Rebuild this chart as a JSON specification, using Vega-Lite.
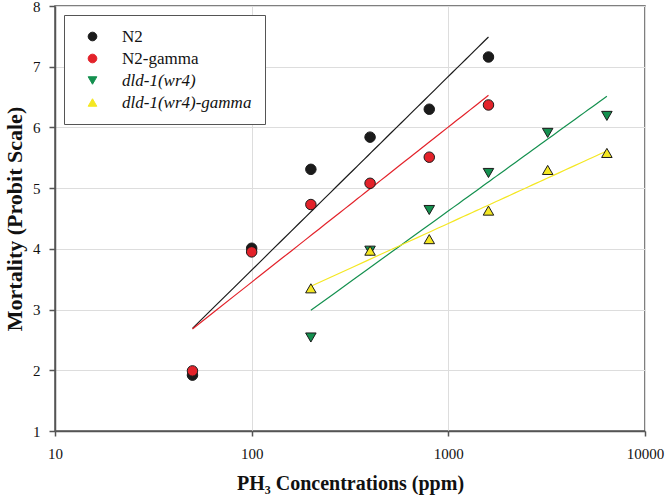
{
  "$schema": "https://vega.github.io/schema/vega-lite/v6.json",
  "width": 590,
  "height": 425,
  "autosize": {"type": "none"},
  "padding": {"left": 55, "top": 6, "right": 21, "bottom": 73},
  "background": "white",
  "config": {
    "font": "Liberation Serif",
    "view": {"stroke": "#555", "strokeWidth": 1.5},
    "axis": {
      "labelFont": "Liberation Serif",
      "labelFontSize": 15,
      "labelColor": "#111",
      "domainColor": "#555",
      "domainWidth": 1.5,
      "tickColor": "#555",
      "tickWidth": 1.5,
      "gridColor": "#dddddd",
      "gridWidth": 1,
      "titleFont": "Liberation Serif",
      "titleFontWeight": "bold",
      "titleColor": "#111"
    },
    "legend": {
      "labelFont": "Liberation Serif",
      "labelFontSize": 17,
      "labelColor": "#111",
      "labelLimit": 300
    }
  },
  "data": {
    "values": [
      {"series": "N2", "ppm": 50, "mortality": 1.92},
      {"series": "N2", "ppm": 100, "mortality": 4.01},
      {"series": "N2", "ppm": 200, "mortality": 5.31},
      {"series": "N2", "ppm": 400, "mortality": 5.84},
      {"series": "N2", "ppm": 800, "mortality": 6.30},
      {"series": "N2", "ppm": 1600, "mortality": 7.16},
      {"series": "N2-gamma", "ppm": 50, "mortality": 1.99},
      {"series": "N2-gamma", "ppm": 100, "mortality": 3.95},
      {"series": "N2-gamma", "ppm": 200, "mortality": 4.73},
      {"series": "N2-gamma", "ppm": 400, "mortality": 5.08},
      {"series": "N2-gamma", "ppm": 800, "mortality": 5.51},
      {"series": "N2-gamma", "ppm": 1600, "mortality": 6.37},
      {"series": "dld-1(wr4)", "ppm": 200, "mortality": 2.54},
      {"series": "dld-1(wr4)", "ppm": 400, "mortality": 3.97},
      {"series": "dld-1(wr4)", "ppm": 800, "mortality": 4.64},
      {"series": "dld-1(wr4)", "ppm": 1600, "mortality": 5.25},
      {"series": "dld-1(wr4)", "ppm": 3200, "mortality": 5.91},
      {"series": "dld-1(wr4)", "ppm": 6400, "mortality": 6.19},
      {"series": "dld-1(wr4)-gamma", "ppm": 200, "mortality": 3.35},
      {"series": "dld-1(wr4)-gamma", "ppm": 400, "mortality": 3.97},
      {"series": "dld-1(wr4)-gamma", "ppm": 800, "mortality": 4.16},
      {"series": "dld-1(wr4)-gamma", "ppm": 1600, "mortality": 4.63},
      {"series": "dld-1(wr4)-gamma", "ppm": 3200, "mortality": 5.30},
      {"series": "dld-1(wr4)-gamma", "ppm": 6400, "mortality": 5.58}
    ]
  },
  "encoding": {
    "x": {
      "field": "ppm",
      "type": "quantitative",
      "scale": {"type": "log", "domain": [10, 10000]},
      "axis": {
        "values": [10, 100, 1000, 10000],
        "format": "d",
        "tickSize": 5,
        "labelPadding": 10,
        "labelFlush": false,
        "title": "PH₃ Concentrations (ppm)",
        "titleFontSize": 20,
        "titlePadding": 12
      }
    },
    "y": {
      "field": "mortality",
      "type": "quantitative",
      "scale": {"domain": [1, 8], "nice": false, "zero": false},
      "axis": {
        "values": [1, 2, 3, 4, 5, 6, 7, 8],
        "tickSize": 6,
        "labelPadding": 9,
        "title": "Mortality (Probit Scale)",
        "titleFontSize": 22,
        "titlePadding": 6
      }
    },
    "color": {
      "field": "series",
      "type": "nominal",
      "scale": {
        "domain": ["N2", "N2-gamma", "dld-1(wr4)", "dld-1(wr4)-gamma"],
        "range": ["#1b1b1b", "#e3222a", "#14904f", "#f4e722"]
      },
      "legend": {
        "title": null,
        "orient": "top-left",
        "offset": 9,
        "padding": 13,
        "symbolOffset": 7,
        "symbolSize": 75,
        "labelFontSize": 17,
        "labelOffset": 21,
        "rowPadding": 4,
        "strokeColor": "#555",
        "fillColor": "white",
        "encode": {
          "symbols": {"update": {"stroke": {"value": "#1a1a1a"}, "strokeWidth": {"value": 1}}},
          "labels": {"update": {"fontSize": {"value": 17}, "fontStyle": {"signal": "indexof(datum.label, 'dld') >= 0 ? 'italic' : 'normal'"}}}
        }
      }
    }
  },
  "layer": [
    {
      "transform": [
        {"regression": "mortality", "on": "ppm", "method": "log", "groupby": ["series"]}
      ],
      "mark": {"type": "line", "strokeWidth": 1.2}
    },
    {
      "mark": {"type": "point", "filled": true, "size": 110, "stroke": "#1a1a1a", "strokeWidth": 1, "opacity": 1},
      "encoding": {
        "shape": {
          "field": "series",
          "type": "nominal",
          "scale": {
            "domain": ["N2", "N2-gamma", "dld-1(wr4)", "dld-1(wr4)-gamma"],
            "range": ["circle", "circle", "triangle-down", "triangle-up"]
          },
          "legend": {
            "title": null,
            "orient": "top-left",
            "offset": 9,
            "padding": 13,
            "symbolOffset": 7,
            "symbolSize": 75,
            "labelFontSize": 17,
            "labelOffset": 21,
            "rowPadding": 4,
            "strokeColor": "#555",
            "fillColor": "white",
            "encode": {
              "symbols": {"update": {"stroke": {"value": "#1a1a1a"}, "strokeWidth": {"value": 1}}},
              "labels": {"update": {"fontSize": {"value": 17}, "fontStyle": {"signal": "indexof(datum.label, 'dld') >= 0 ? 'italic' : 'normal'"}}}
            }
          }
        }
      }
    }
  ]
}
